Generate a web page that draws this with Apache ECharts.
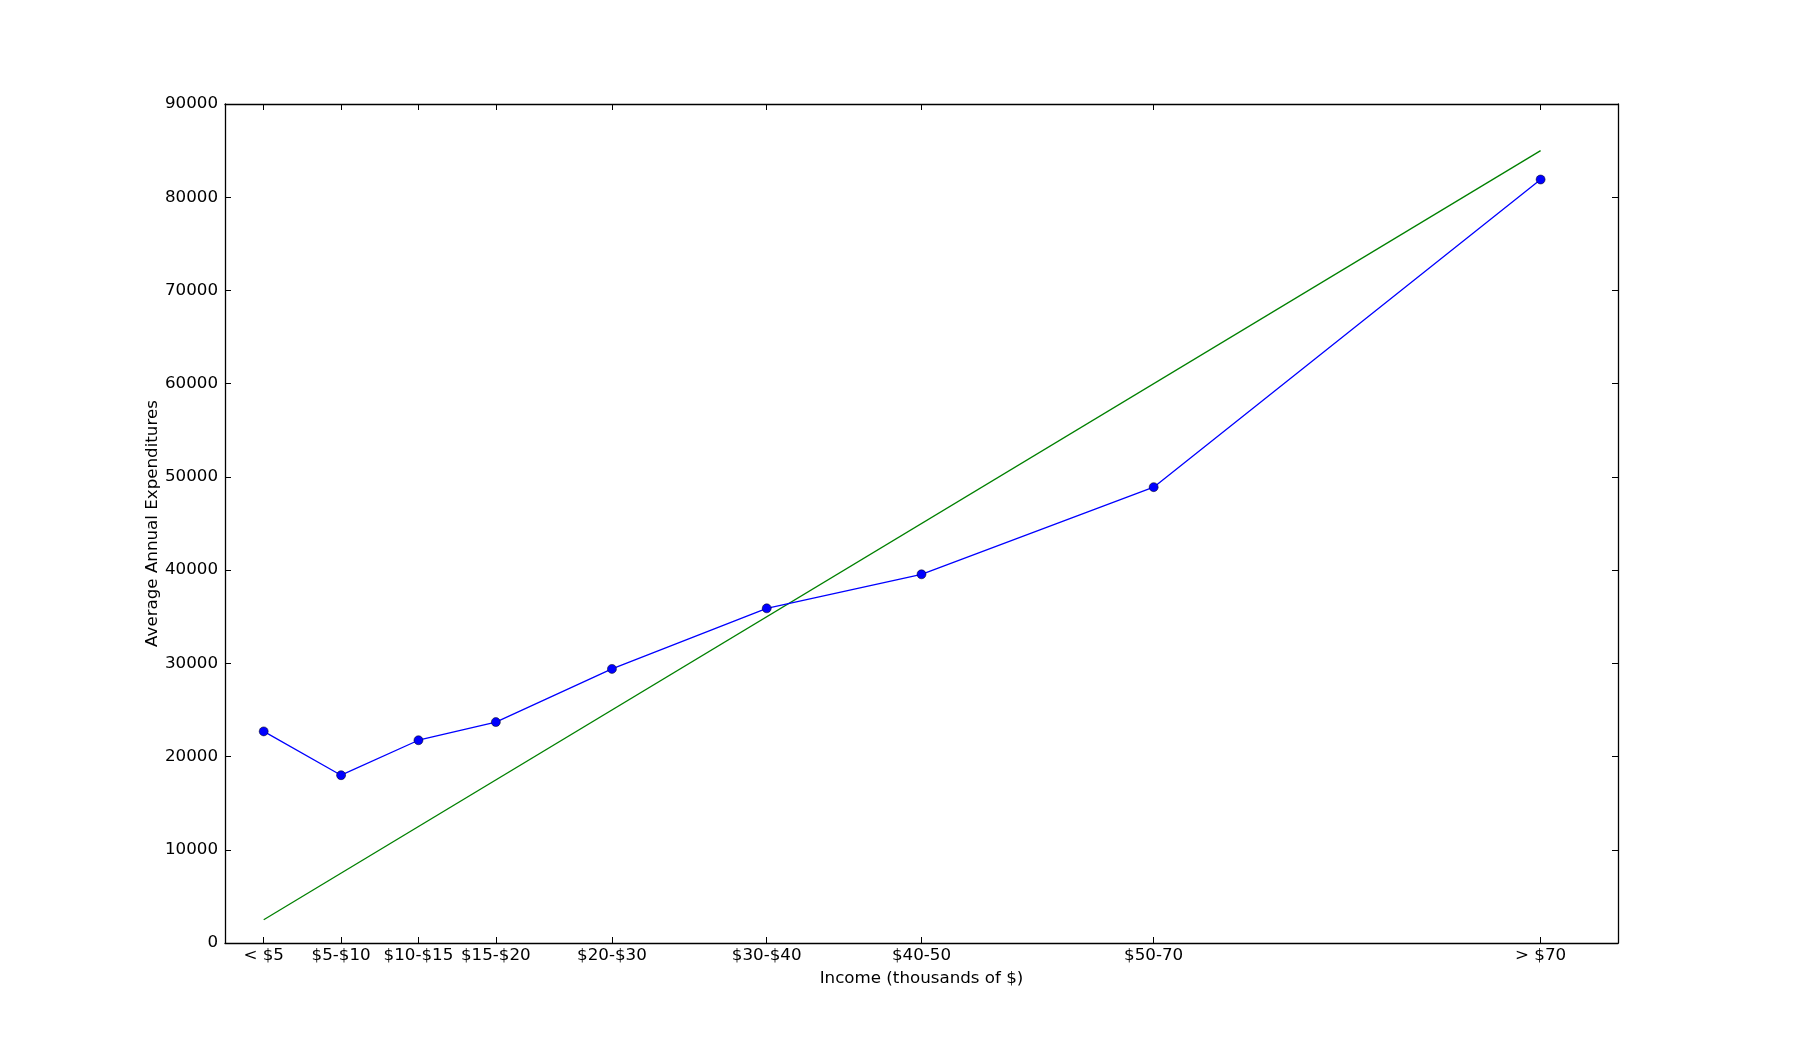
<!DOCTYPE html>
<html>
<head>
<meta charset="utf-8">
<script src="https://cdn.jsdelivr.net/npm/echarts@6/dist/echarts.min.js"></script>
<style>html,body{margin:0;padding:0;background:#fff;}#c{width:1797px;height:1048px;}</style>
</head>
<body>
<div id="c"></div>
<script>
// Data
const tickValues = [2.5, 7.5, 12.5, 17.5, 25, 35, 45, 60, 85];
const tickLabels = ['< $5', '$5-$10', '$10-$15', '$15-$20', '$20-$30', '$30-$40', '$40-50', '$50-70', '> $70'];
const expenditures = [22700, 18000, 21750, 23700, 29400, 35900, 39550, 48900, 81900];
const fitX = [2.5, 85];
const fitY = [2500, 85000];

const FONT = 'DejaVu Sans';
const FS = 16.7;

const chart = echarts.init(document.getElementById('c'), null, {renderer: 'canvas'});
const xBase = {
  type: 'value', min: 0, max: 90,
  splitLine: {show: false},
  axisLine: {show: true, onZero: false, lineStyle: {color: '#000', width: 1.3}},
  axisTick: {show: true, inside: true, length: 6, customValues: tickValues, lineStyle: {color: '#000', width: 1}},
};
const yBase = {
  type: 'value', min: 0, max: 90000, interval: 10000,
  splitLine: {show: false},
  axisLine: {show: true, onZero: false, lineStyle: {color: '#000', width: 1.3}},
  axisTick: {show: true, inside: true, length: 6, lineStyle: {color: '#000', width: 1}},
};
chart.setOption({
  animation: false,
  backgroundColor: '#fff',
  grid: {left: 225, right: 179, top: 104, bottom: 105, containLabel: false},
  xAxis: [
    Object.assign({}, xBase, {
      position: 'bottom',
      name: 'Income (thousands of $)', nameLocation: 'middle', nameGap: 27, nameMoveOverlap: false,
      nameTextStyle: {fontFamily: FONT, fontSize: FS, color: '#000'},
      axisLabel: {show: true, customValues: tickValues, margin: 4, fontFamily: FONT, fontSize: FS, color: '#000',
        formatter: function (v) { const i = tickValues.indexOf(v); return i >= 0 ? tickLabels[i] : ''; }}
    }),
    Object.assign({}, xBase, {position: 'top', axisLabel: {show: false}})
  ],
  yAxis: [
    Object.assign({}, yBase, {
      position: 'left',
      name: 'Average Annual Expenditures', nameLocation: 'middle', nameGap: 64, nameRotate: 90, nameMoveOverlap: false,
      nameTextStyle: {fontFamily: FONT, fontSize: FS, color: '#000'},
      axisLabel: {show: true, margin: 7, fontFamily: FONT, fontSize: FS, color: '#000',
        formatter: function (v) { return String(v); }}
    }),
    Object.assign({}, yBase, {position: 'right', axisLabel: {show: false}})
  ],
  series: [
    {
      type: 'line', xAxisIndex: 0, yAxisIndex: 0,
      data: tickValues.map((x, i) => [x, expenditures[i]]),
      lineStyle: {color: '#0000ff', width: 1.3},
      symbol: 'circle', symbolSize: 9, showAllSymbol: true,
      itemStyle: {color: '#0000ff', borderColor: '#000', borderWidth: 0.5},
      z: 3
    },
    {
      type: 'line', xAxisIndex: 0, yAxisIndex: 0,
      data: fitX.map((x, i) => [x, fitY[i]]),
      lineStyle: {color: '#008000', width: 1.3},
      symbol: 'none',
      z: 2
    }
  ]
});
</script>
</body>
</html>
